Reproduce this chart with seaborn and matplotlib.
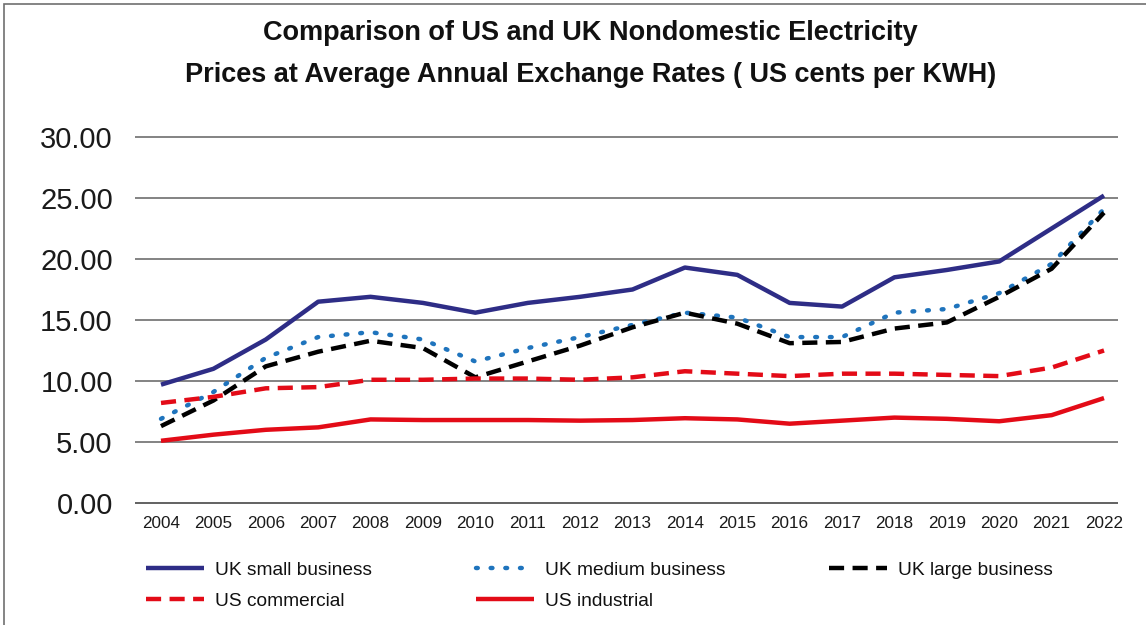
import matplotlib
matplotlib.use("Agg")
import matplotlib.pyplot as plt
import seaborn as sns
import pandas as pd
from matplotlib.lines import Line2D
from matplotlib.patches import Rectangle

years = list(range(2004, 2023))
uk_small = [9.7, 11.0, 13.4, 16.5, 16.9, 16.4, 15.6, 16.4, 16.9, 17.5, 19.3, 18.7, 16.4, 16.1, 18.5, 19.1, 19.8, 22.5, 25.2]
uk_medium = [6.9, 9.1, 11.9, 13.6, 14.0, 13.4, 11.6, 12.7, 13.6, 14.6, 15.6, 15.2, 13.6, 13.6, 15.6, 15.9, 17.2, 19.6, 24.1]
uk_large = [6.3, 8.4, 11.2, 12.4, 13.3, 12.7, 10.3, 11.6, 12.9, 14.4, 15.6, 14.7, 13.1, 13.2, 14.3, 14.8, 16.9, 19.2, 23.8]
us_commercial = [8.2, 8.7, 9.4, 9.5, 10.1, 10.1, 10.2, 10.2, 10.1, 10.3, 10.8, 10.6, 10.4, 10.6, 10.6, 10.5, 10.4, 11.1, 12.5]
us_industrial = [5.1, 5.6, 6.0, 6.2, 6.85, 6.8, 6.8, 6.8, 6.75, 6.8, 6.95, 6.85, 6.5, 6.75, 7.0, 6.9, 6.7, 7.2, 8.6]

series_names = ["UK small business", "UK medium business", "UK large business",
                "US commercial", "US industrial"]
series_values = [uk_small, uk_medium, uk_large, us_commercial, us_industrial]
y_ticks = [0, 5, 10, 15, 20, 25, 30]

LW = 3.2
styles = {
    "UK small business": dict(color="#2e2d86", ls="-", cap="butt"),
    "UK medium business": dict(color="#1f74bd", ls=(0, (0.4, 2.9)), cap="round"),
    "UK large business": dict(color="#000000", ls=(0, (3.4, 1.9)), cap="butt"),
    "US commercial": dict(color="#e30b17", ls=(0, (3.4, 1.9)), cap="butt"),
    "US industrial": dict(color="#e30b17", ls="-", cap="butt"),
}

rows = []
for name, vals in zip(series_names, series_values):
    for yr, v in zip(years, vals):
        rows.append({"year": yr, "value": v, "series": name})
df = pd.DataFrame(rows)

sns.set_theme(style="white")
plt.rcParams["font.family"] = ["Liberation Sans", "DejaVu Sans"]

W, H = 1146, 625
fig = plt.figure(figsize=(W / 100, H / 100), dpi=100)
fig.patch.set_facecolor("white")

left_px, right_px = 135, 1118
top_px, bot_px = 134.5, 506.5
ax = fig.add_axes([left_px / W, 1 - bot_px / H, (right_px - left_px) / W, (bot_px - top_px) / H])

for t in y_ticks:
    ax.axhline(t, color="#7a7a7a" if t else "#555555", lw=1.3, zorder=1)

for name in series_names:
    st = styles[name]
    sub = df[df["series"] == name]
    sns.lineplot(data=sub, x="year", y="value", ax=ax, color=st["color"],
                 linestyle=st["ls"], linewidth=LW, legend=False, zorder=3,
                 solid_capstyle="butt", dash_capstyle=st["cap"])

px_per_year = (1104 - 161) / 18
ax.set_xlim(2004 - (161 - left_px) / px_per_year, 2022 + (right_px - 1104) / px_per_year)
px_per_unit = (503 - 137) / 30
ax.set_ylim(-(bot_px - 503) / px_per_unit, 30 + (137 - top_px) / px_per_unit)
ax.set_xticks(years)
ax.set_xticklabels([str(y) for y in years], fontsize=12.3)
ax.set_yticks(y_ticks)
ax.set_yticklabels([f"{t:.2f}" for t in y_ticks], fontsize=21)
ax.tick_params(axis="x", length=0, pad=7, colors="#1a1a1a")
ax.tick_params(axis="y", length=0, pad=16, colors="#1a1a1a")
ax.set_xlabel("")
ax.set_ylabel("")
for s in ax.spines.values():
    s.set_visible(False)
ax.grid(False)

fig.text(590 / W, 1 - 33 / H, "Comparison of US and UK Nondomestic Electricity",
         ha="center", va="center", fontsize=19.5, fontweight="bold", color="#111111")
fig.text(591 / W, 1 - 75 / H, "Prices at Average Annual Exchange Rates ( US cents per KWH)",
         ha="center", va="center", fontsize=19.5, fontweight="bold", color="#111111")

# legend entries placed row-wise
layout = [("UK small business", 146, 570), ("UK medium business", 476, 570),
          ("UK large business", 829, 570), ("US commercial", 146, 601),
          ("US industrial", 476, 601)]
for name, xpx, ypx in layout:
    st = styles[name]
    h = Line2D([0], [0], color=st["color"], linestyle=st["ls"], linewidth=LW,
               dash_capstyle=st["cap"], solid_capstyle="butt")
    leg = fig.legend([h], [name], loc="center left", bbox_to_anchor=(xpx / W, 1 - ypx / H),
                     frameon=False, fontsize=13.8, handlelength=3.0, handletextpad=0.6,
                     borderaxespad=0, borderpad=0)
    for t in leg.get_texts():
        t.set_color("#111111")

fig.add_artist(Rectangle((4 / W, -0.1), 1.2, 1 - 3.5 / H + 0.1, transform=fig.transFigure,
                         fill=False, edgecolor="#6f6f6f", lw=1.2))

fig.savefig("out.png", dpi=100)
